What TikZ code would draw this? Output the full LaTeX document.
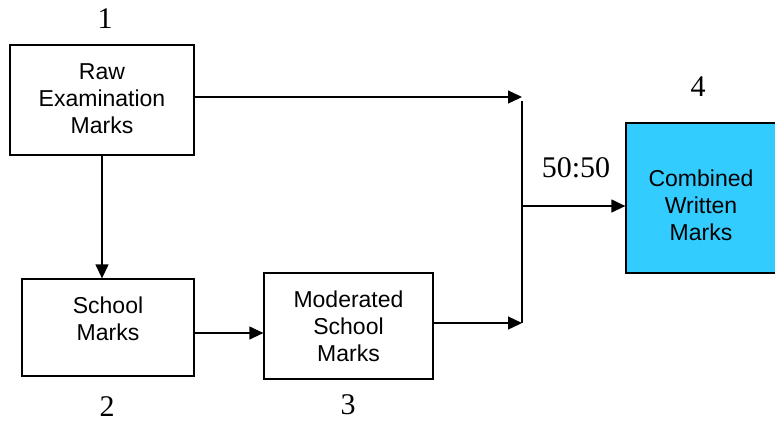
\documentclass[tikz,border=0pt]{standalone}
\usepackage{fontspec}
\setmainfont{Liberation Serif}
\newfontfamily\boxfont{Liberation Sans}
\usetikzlibrary{arrows.meta}
\tikzset{
  box/.style={draw=black, line width=1.3pt, inner sep=0pt},
  boxtxt/.style={font=\boxfont\fontsize{23}{27}\selectfont, align=center, inner sep=0pt},
  num/.style={font=\fontsize{30}{32}\selectfont, inner sep=0pt},
  conn/.style={line width=1.3pt},
  arr/.style={conn, -{Triangle[length=14pt,width=13pt]}}
}
\begin{document}
\begin{tikzpicture}[x=1pt,y=-1pt]
\useasboundingbox (0,0) rectangle (775,424);
\clip (0,0) rectangle (775,424);
% boxes
\node[box, minimum width=184pt, minimum height=110pt] (b1) at (102,100) {};
\node[box, minimum width=172pt, minimum height=97pt] (b2) at (108,327.5) {};
\node[box, minimum width=169pt, minimum height=106pt] (b3) at (348.5,326) {};
\node[box, fill={rgb,255:red,51;green,204;blue,255}, minimum width=154pt, minimum height=150pt] (b4) at (703,198) {};
% box texts
\node[boxtxt] (t1) at (102,99) {Raw\\Examination\\Marks};
\node[boxtxt] (t2) at (108,319) {School\\Marks};
\node[boxtxt] (t3) at (348.5,326) {Moderated\\School\\Marks};
\node[boxtxt] (t4) at (701,205) {Combined\\Written\\Marks};
% numbers
\node[num] (n1) at (105,19) {1};
\node[num] (n2) at (107,407) {2};
\node[num] (n3) at (348,405) {3};
\node[num] (n4) at (698,87) {4};
\node[num] (ratio) at (576,168) {50:50};
% junction
\coordinate (jt) at (522,97);
\coordinate (jtop) at (522,101);
\coordinate (jm) at (522,206);
\coordinate (jb) at (522,323);
% connectors
\draw[arr] (b1.east |- jt) -- (jt);
\draw[arr] (b3.east |- jb) -- (jb);
\draw[conn] (jtop) -- (jb);
\draw[arr] (jm) -- (b4.west |- jm);
\draw[arr] (b1.south) -- (b2.north -| b1.south);
\draw[arr] (b2.east |- 0,333) -- (b3.west |- 0,333);
\end{tikzpicture}
\end{document}
